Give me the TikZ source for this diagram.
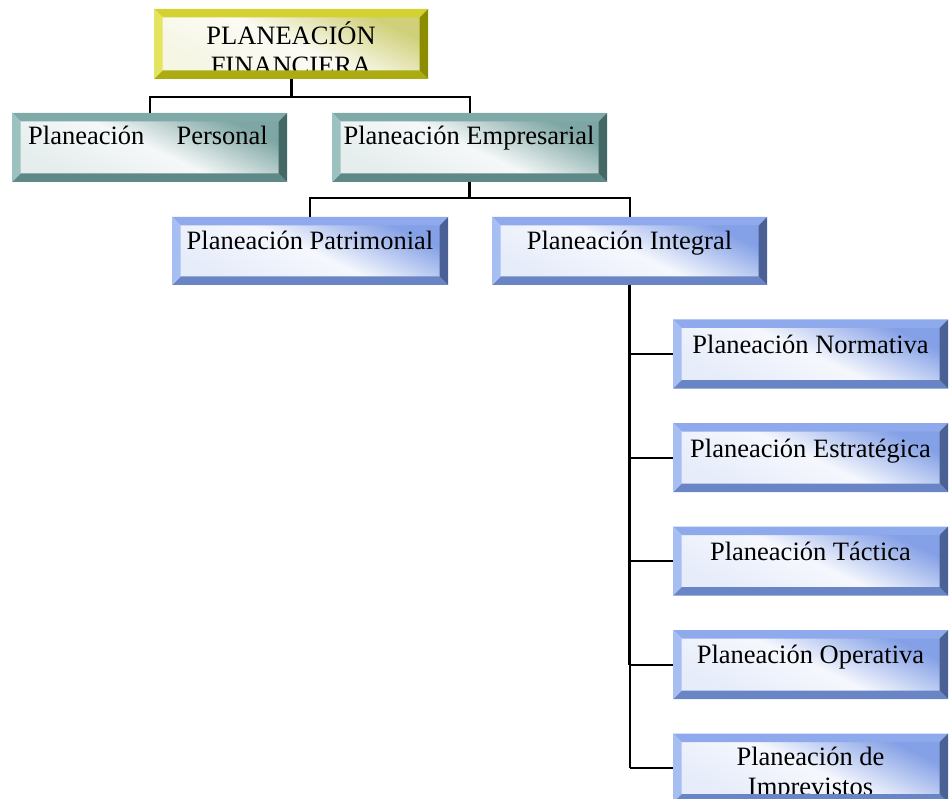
\documentclass[tikz,border=0pt]{standalone}
\usepackage{fontspec}
\setmainfont{Liberation Serif}
\usetikzlibrary{calc}

% bevel colour families: T top, L left, R right, B bottom, F face tint
\definecolor{yelT}{HTML}{D2D230}
\definecolor{yelL}{HTML}{E4E45E}
\definecolor{yelR}{HTML}{8C8C00}
\definecolor{yelB}{HTML}{ABAB12}
\definecolor{yelF}{HTML}{D0D07A}
\definecolor{tealT}{HTML}{7FAAA8}
\definecolor{tealL}{HTML}{9CC2C0}
\definecolor{tealR}{HTML}{436866}
\definecolor{tealB}{HTML}{5E8987}
\definecolor{tealF}{HTML}{7EA6A4}
\definecolor{bluT}{HTML}{8EA9EC}
\definecolor{bluL}{HTML}{A7BEF2}
\definecolor{bluR}{HTML}{4B6196}
\definecolor{bluB}{HTML}{6A85C6}
\definecolor{bluF}{HTML}{84A0E6}

\def\bvw{8.5}

% shaded face of a box slot
\newcommand\boxface[2]{%
  \shade[top color=#2F, bottom color=white!80!#2F, middle color=white!92!#2F, shading angle=-25]
    ($(#1.north west)+(\bvw,\bvw)$) rectangle ($(#1.south east)+(-\bvw,-\bvw)$);}
% four bevel strips drawn over the face (and over any overflowing text)
\newcommand\boxbevel[2]{%
  \fill[#2T] (#1.north west) -- (#1.north east) -- ($(#1.north east)+(-\bvw,\bvw)$) -- ($(#1.north west)+(\bvw,\bvw)$) -- cycle;
  \fill[#2B] (#1.south west) -- (#1.south east) -- ($(#1.south east)+(-\bvw,-\bvw)$) -- ($(#1.south west)+(\bvw,-\bvw)$) -- cycle;
  \fill[#2L] (#1.north west) -- ($(#1.north west)+(\bvw,\bvw)$) -- ($(#1.south west)+(\bvw,-\bvw)$) -- (#1.south west) -- cycle;
  \fill[#2R] (#1.north east) -- ($(#1.north east)+(-\bvw,\bvw)$) -- ($(#1.south east)+(-\bvw,-\bvw)$) -- (#1.south east) -- cycle;}

\tikzset{
  slot/.style={inner sep=0pt, outer sep=0pt, minimum width=275pt, minimum height=69pt},
  lbl/.style={inner sep=0pt, anchor=base, font=\fontsize{26.5}{30}\selectfont},
  link/.style={line width=2pt, black},
  trunk/.style={line width=3pt, black}
}

\begin{document}
\begin{tikzpicture}[x=1pt, y=-1pt]
\useasboundingbox (0,0) rectangle (950,799);

% ---- root ----
\node[slot, minimum width=274pt, minimum height=70pt] (root) at (291,44) {};
\boxface{root}{yel}
\node[lbl] (root-a) at (291,45) {PLANEACIÓN};
\node[lbl] (root-b) at (291,75) {FINANCIERA};
\boxbevel{root}{yel}

% ---- second level ----
\node[slot] (pers) at (149.5,147.5) {};
\boxface{pers}{teal}
\node[lbl, anchor=base west] (pers-a) at (28,145) {Planeación};
\node[lbl, anchor=base east] (pers-b) at (268,145) {Personal};
\boxbevel{pers}{teal}

\node[slot] (emp) at (469.5,147.5) {};
\boxface{emp}{teal}
\node[lbl] (emp-t) at (469,145) {Planeación Empresarial};
\boxbevel{emp}{teal}

% ---- third level ----
\node[slot, minimum width=276pt, minimum height=68pt] (patr) at (310,251) {};
\boxface{patr}{blu}
\node[lbl] (patr-t) at (310,250) {Planeación Patrimonial};
\boxbevel{patr}{blu}

\node[slot, minimum height=68pt] (integ) at (629.5,251) {};
\boxface{integ}{blu}
\node[lbl] (integ-t) at (629.5,250) {Planeación Integral};
\boxbevel{integ}{blu}

% ---- integral planning branches ----
\node[slot] (norm) at (810.5,354) {};
\boxface{norm}{blu}
\node[lbl] (norm-t) at (810.5,353) {Planeación Normativa};
\boxbevel{norm}{blu}

\node[slot] (estr) at (810.5,457.5) {};
\boxface{estr}{blu}
\node[lbl] (estr-t) at (810.5,457) {Planeación Estratégica};
\boxbevel{estr}{blu}

\node[slot] (tact) at (810.5,561) {};
\boxface{tact}{blu}
\node[lbl] (tact-t) at (810.5,560) {Planeación Táctica};
\boxbevel{tact}{blu}

\node[slot] (oper) at (810.5,664.5) {};
\boxface{oper}{blu}
\node[lbl] (oper-t) at (810.5,663) {Planeación Operativa};
\boxbevel{oper}{blu}

\node[slot] (impr) at (810.5,768) {};
\boxface{impr}{blu}
\node[lbl] (impr-a) at (810.5,765) {Planeación de};
\node[lbl] (impr-b) at (810.5,795) {Imprevistos};
\boxbevel{impr}{blu}

% ---- connectors ----
\coordinate (bus1) at (0,97);
\coordinate (bus2) at (0,198);
\draw[trunk] (root.south) -- (root.south |- bus1);
\draw[link] (pers.north) -- (pers.north |- bus1) -- (emp.north |- bus1) -- (emp.north);
\draw[trunk] (emp.south) -- (emp.south |- bus2);
\draw[link] (patr.north) -- (patr.north |- bus2) -- (integ.north |- bus2) -- (integ.north);
\draw[trunk] (integ.south) -- (integ.south |- oper.west);
\draw[link] (integ.south |- oper.west) -- (integ.south |- impr.west);
\foreach \b in {norm, estr, tact, oper, impr}
  \draw[link] (integ.south |- \b.west) -- (\b.west);
\end{tikzpicture}
\end{document}
